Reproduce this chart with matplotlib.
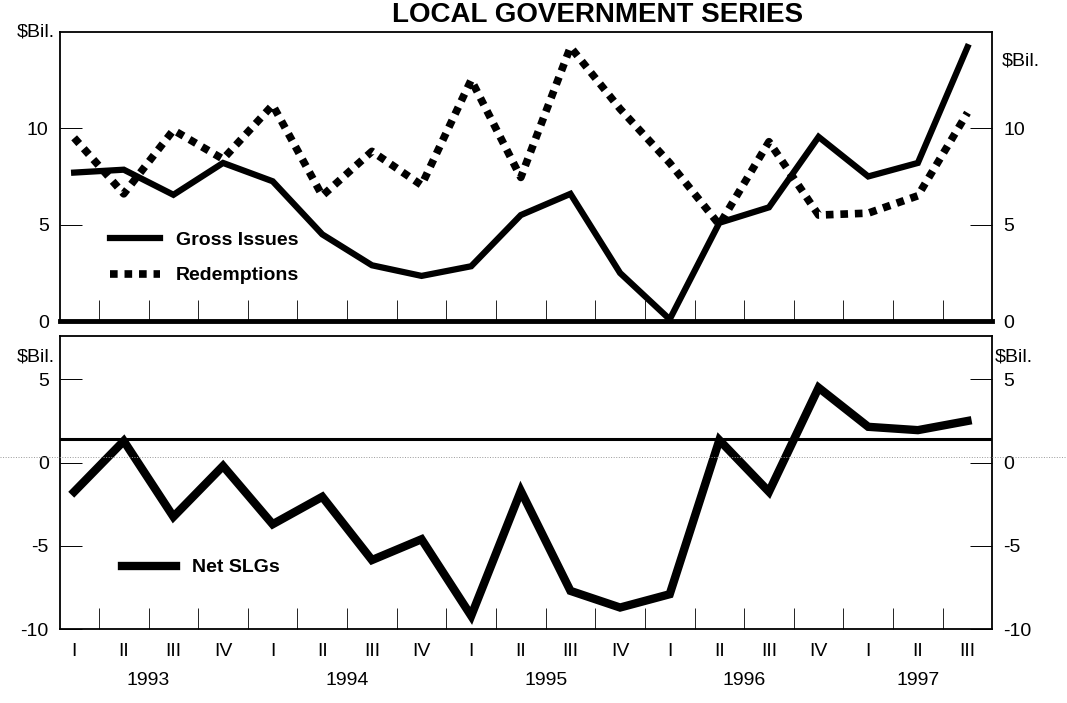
import matplotlib
matplotlib.use("Agg")
import matplotlib.pyplot as plt
from matplotlib.lines import Line2D

plt.rcParams['font.family'] = ['Liberation Sans', 'DejaVu Sans']
plt.rcParams['axes.unicode_minus'] = False

# quarterly data, 1993 Q1 .. 1997 Q3 ($ billions)
quarter_labels = ['I', 'II', 'III', 'IV'] * 4 + ['I', 'II', 'III']
years = ['1993', '1994', '1995', '1996', '1997']
year_pos = [1.5, 5.5, 9.5, 13.5, 17]

gross_issues = [7.7, 7.85, 6.55, 8.2, 7.25, 4.5, 2.9, 2.35, 2.85, 5.5,
                6.6, 2.5, 0.1, 5.1, 5.9, 9.55, 7.5, 8.2, 14.2]
redemptions = [9.5, 6.6, 9.9, 8.4, 11.2, 6.5, 8.8, 7.05, 12.5, 7.45,
               14.2, 11.0, 8.2, 5.0, 9.3, 5.5, 5.6, 6.5, 10.8]
net_slgs = [-1.75, 1.3, -3.25, -0.2, -3.7, -2.05, -5.85, -4.6, -9.2, -1.7,
            -7.7, -8.7, -7.9, 1.35, -1.75, 4.5, 2.15, 1.95, 2.5]
ref_level = 1.4

x = list(range(len(quarter_labels)))

fig = plt.figure(figsize=(10.67, 7.03), dpi=100)
ax1 = fig.add_axes([0.056, 0.543, 0.874, 0.412])
ax2 = fig.add_axes([0.056, 0.105, 0.874, 0.417])

fs = 14

ax1.plot(x, gross_issues, color='black', lw=4.5, solid_joinstyle='miter',
         label='Gross Issues')
ax1.plot(x, redemptions, color='black', lw=5.5, linestyle=(0, (1, 0.9)),
         dash_capstyle='butt', label='Redemptions')
ax1.set_ylim(0, 15)

ax2.plot(x, net_slgs, color='black', lw=6, solid_joinstyle='miter',
         label='Net SLGs')
ax2.axhline(ref_level, color='black', lw=2.2)
ax2.set_ylim(-10, 7.6)

for ax in (ax1, ax2):
    ax.set_xlim(-0.29, 18.5)
    ax.set_xticks(x)
    ax.set_xticks([i + 0.5 for i in range(len(x) - 1)], minor=True)
    ax.tick_params(axis='x', which='major', length=0, labelsize=fs)
    ax.tick_params(axis='x', which='minor', direction='in', length=15,
                   width=0.6)
    ax.tick_params(axis='y', direction='in', length=16, width=0.7,
                   labelsize=fs, right=True, labelright=True, pad=8)
    for s in ax.spines.values():
        s.set_linewidth(1.3)

ax1.set_yticks([0, 5, 10])
ax1.tick_params(axis='x', labelbottom=False)
ax1.spines['bottom'].set_linewidth(3.5)

ax2.set_yticks([-10, -5, 0, 5])
ax2.set_xticklabels(quarter_labels)
ax2.tick_params(axis='x', pad=10)
for yr, p in zip(years, year_pos):
    ax2.text(p, -0.145, yr, transform=ax2.get_xaxis_transform(),
             ha='center', va='top', fontsize=fs)

# unit labels
ax1.text(-0.005, 1.0, '$Bil.', transform=ax1.transAxes, ha='right',
         va='center', fontsize=fs)
ax1.text(1.01, 0.9, '$Bil.', transform=ax1.transAxes, ha='left',
         va='center', fontsize=fs)
ax2.text(-0.005, 0.93, '$Bil.', transform=ax2.transAxes, ha='right',
         va='center', fontsize=fs)
ax2.text(1.003, 0.93, '$Bil.', transform=ax2.transAxes, ha='left',
         va='center', fontsize=fs)

ax1.legend(loc='upper left', bbox_to_anchor=(0.035, 0.37), frameon=False,
           handlelength=2.6, labelspacing=0.9,
           prop={'size': fs, 'weight': 'bold'})
ax2.legend(loc='upper left', bbox_to_anchor=(0.048, 0.3), frameon=False,
           handlelength=2.8, prop={'size': fs, 'weight': 'bold'})

# title (only its lower part is visible on the scan)
fig.text(0.56, 0.968, 'LOCAL GOVERNMENT SERIES', ha='center',
         va='baseline', fontsize=20, fontweight='bold')

# faint scanner line
fig.add_artist(Line2D([0, 1], [0.35, 0.35], transform=fig.transFigure,
                      color='#999999', lw=0.7, linestyle=':'))

fig.savefig('out.png', dpi=100)
